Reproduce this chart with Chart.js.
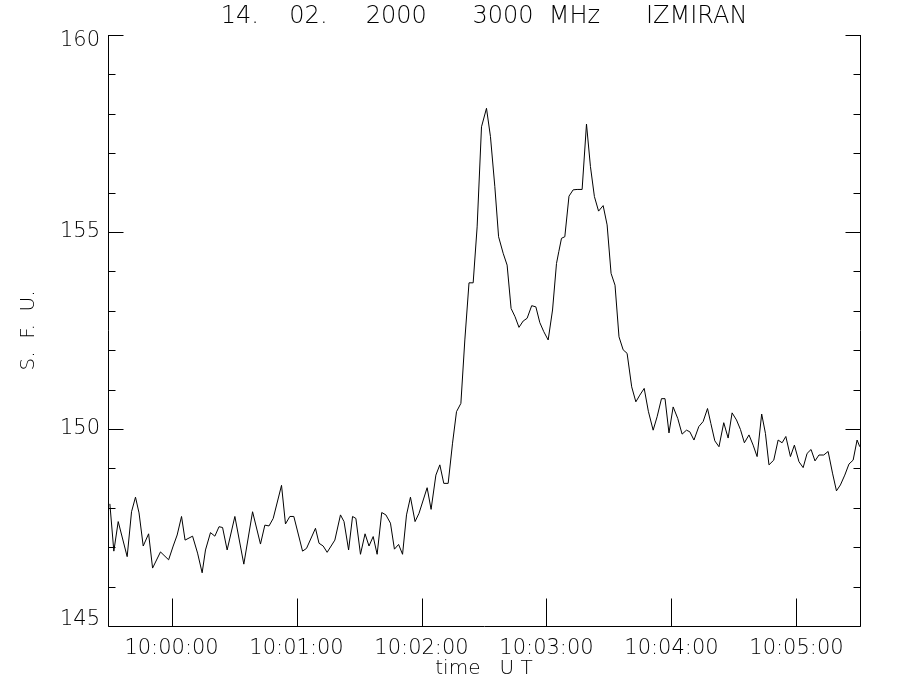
<!DOCTYPE html>
<html>
<head>
<meta charset="utf-8">
<script src="https://cdn.jsdelivr.net/npm/chart.js@4/dist/chart.umd.min.js"></script>
<style>
  body { margin: 0; background: #fff; }
  #wrap { width: 900px; height: 700px; }
</style>
</head>
<body>
<div id="wrap"><canvas id="chart" width="900" height="700"></canvas></div>
<script>
// time in seconds after 10:00:00 UT, flux in S.F.U.
const times = [
  -29.6, -27.7, -25.6, -21.3, -19.2, -17.3, -15.6, -13.6, -11.0, -9.1,
  -5.3, -1.4, 0.8, 2.7, 4.8, 6.5, 10.1, 12.5, 14.7, 16.3,
  18.7, 20.8, 22.8, 24.5, 26.7, 30.4, 34.7, 38.9, 42.7, 44.8,
  46.8, 48.8, 52.8, 54.7, 56.8, 58.7, 62.9, 64.8, 69.1, 70.8,
  72.8, 74.7, 78.4, 81.1, 82.8, 85.0, 86.9, 88.5, 90.7, 92.9,
  94.8, 96.8, 98.7, 100.9, 102.9, 105.1, 107.0, 109.0, 110.9, 112.8,
  114.7, 116.9, 118.8, 122.7, 124.6, 126.9, 128.8, 130.7, 132.8, 134.9,
  136.8, 138.9, 140.8, 142.8, 144.8, 146.7, 148.8, 151.2, 153.1, 155.2,
  157.0, 159.2, 161.1, 163.0, 164.9, 166.8, 168.8, 170.7, 172.9, 174.9,
  176.8, 178.7, 180.8, 182.9, 184.8, 185.9, 187.2, 188.8, 190.8, 192.8,
  194.7, 197.1, 199.2, 201.1, 203.0, 205.0, 207.2, 209.1, 211.0, 212.9,
  214.8, 216.8, 218.7, 220.9, 222.9, 224.8, 226.9, 228.9, 231.2, 233.1,
  235.2, 236.9, 238.8, 240.8, 243.0, 245.1, 247.2, 248.8, 250.8, 253.1,
  255.2, 257.3, 258.9, 260.8, 262.8, 265.1, 267.2, 269.1, 271.2, 273.1,
  275.0, 277.2, 279.2, 281.1, 283.3, 285.1, 286.8, 289.1, 291.2, 293.1,
  294.9, 297.1, 299.0, 301.2, 303.2, 305.1, 307.0, 308.9, 310.8, 313.1,
  315.2, 317.3, 319.2, 321.1, 323.2, 325.2, 327.2, 329.1, 330.4
];
const flux = [
  148.10, 146.90, 147.65, 146.76, 147.90, 148.27, 147.87, 147.03, 147.34, 146.47,
  146.88, 146.68, 147.03, 147.31, 147.78, 147.18, 147.28, 146.85, 146.35, 146.93,
  147.37, 147.28, 147.52, 147.50, 146.93, 147.78, 146.57, 147.90, 147.08, 147.56,
  147.54, 147.73, 148.57, 147.59, 147.78, 147.78, 146.90, 146.97, 147.48, 147.10,
  147.03, 146.87, 147.18, 147.82, 147.65, 146.93, 147.78, 147.73, 146.82, 147.34,
  147.03, 147.27, 146.82, 147.88, 147.82, 147.61, 146.95, 147.07, 146.82, 147.82,
  148.27, 147.65, 147.86, 148.51, 147.96, 148.83, 149.09, 148.62, 148.62, 149.64,
  150.44, 150.65, 152.26, 153.71, 153.71, 155.13, 157.67, 158.14, 157.42, 156.15,
  154.88, 154.46, 154.16, 153.06, 152.85, 152.58, 152.74, 152.81, 153.13, 153.10,
  152.70, 152.47, 152.26, 153.02, 154.20, 154.50, 154.84, 154.88, 155.91, 156.07,
  156.08, 156.08, 157.74, 156.66, 155.90, 155.53, 155.67, 155.18, 153.95, 153.65,
  152.34, 152.01, 151.92, 151.07, 150.69, 150.86, 151.03, 150.45, 149.97, 150.31,
  150.77, 150.77, 149.90, 150.56, 150.27, 149.87, 149.97, 149.93, 149.72, 150.06,
  150.19, 150.52, 150.14, 149.70, 149.55, 150.16, 149.77, 150.41, 150.23, 149.99,
  149.65, 149.85, 149.59, 149.30, 150.38, 149.89, 149.09, 149.21, 149.72, 149.65,
  149.81, 149.30, 149.59, 149.17, 149.02, 149.38, 149.48, 149.19, 149.34, 149.34,
  149.43, 148.88, 148.43, 148.58, 148.83, 149.11, 149.21, 149.72, 149.55
];
const xTicks = [0, 60, 120, 180, 240, 300];
const yTicks = [145, 150, 155, 160];

const FONT = "'DejaVu Sans', sans-serif";

function clock(sec) {
  let t = 10 * 3600 + sec;
  let h = Math.floor(t / 3600), m = Math.floor((t % 3600) / 60), s = Math.round(t % 60);
  return [h, m, s].map(n => String(n).padStart(2, "0")).join(":");
}

// IDL style box: left, bottom and right axes, ticks pointing inward
const frame = {
  id: "frame",
  beforeDraw(chart) {
    // end labels sit inside the axis range, like the original plot
    const y = chart.scales.y;
    const items = y.getLabelItems();
    if (!items._nudged && items.length) {
      items.forEach(it => {
        if (it.label === String(y.max)) it.options.translation[1] += 6;
        if (it.label === String(y.min)) it.options.translation[1] -= 6;
      });
      items._nudged = true;
    }
  },
  afterDatasetsDraw(chart) {
    const { ctx, chartArea: a, scales: { x, y } } = chart;
    ctx.save();
    ctx.strokeStyle = "#000";
    ctx.lineWidth = 1;
    ctx.beginPath();
    const L = Math.round(a.left) + 0.5, R = Math.round(a.right) + 0.5, B = Math.round(a.bottom) + 0.5;
    ctx.moveTo(L, a.top);
    ctx.lineTo(L, B);
    ctx.lineTo(R, B);
    ctx.lineTo(R, a.top);
    for (let v = y.min; v <= y.max; v++) {
      const py = Math.round(y.getPixelForValue(v)) + 0.5;
      const len = yTicks.includes(v) ? 15 : 7;
      ctx.moveTo(L, py); ctx.lineTo(L + len, py);
      ctx.moveTo(R, py); ctx.lineTo(R - len, py);
    }
    xTicks.forEach(v => {
      const px = Math.round(x.getPixelForValue(v)) + 0.5;
      ctx.moveTo(px, B); ctx.lineTo(px, B - 28);
    });
    ctx.stroke();
    ctx.restore();
  }
};

new Chart(document.getElementById("chart"), {
  type: "line",
  data: {
    datasets: [{
      data: times.map((t, i) => ({ x: t, y: flux[i] })),
      borderColor: "#000",
      borderWidth: 1,
      pointRadius: 0,
      tension: 0,
      fill: false
    }]
  },
  options: {
    responsive: false,
    animation: false,
    layout: { padding: { left: 0, right: 40, top: 0, bottom: 0 } },
    plugins: {
      legend: { display: false },
      tooltip: { enabled: false },
      title: {
        display: true,
        fullSize: false,
        text: "14.    02.     2000      3000  MHz      IZMIRAN",
        color: "#000",
        font: { family: FONT, size: 24, weight: 200, lineHeight: 1.2 },
        padding: { top: 2.5, bottom: 3.7 }
      }
    },
    scales: {
      x: {
        type: "linear",
        min: -30.5,
        max: 330.5,
        grid: { display: false, drawTicks: false },
        border: { display: false },
        afterBuildTicks: s => { s.ticks = xTicks.map(v => ({ value: v })); },
        afterFit: s => { s.height = 74; },
        ticks: {
          color: "#000",
          padding: 10,
          maxRotation: 0,
          font: { family: FONT, size: 21, weight: 200 },
          callback: v => clock(v)
        },
        title: {
          display: true,
          text: "time   U T",
          color: "#000",
          font: { family: FONT, size: 20, weight: 200, lineHeight: 1.2 },
          padding: { top: 19, bottom: 19 }
        }
      },
      y: {
        min: 145,
        max: 160,
        grid: { display: false, drawTicks: false },
        border: { display: false },
        afterBuildTicks: s => { s.ticks = yTicks.map(v => ({ value: v })); },
        afterFit: s => { s.width = 108; },
        ticks: {
          color: "#000",
          padding: 8,
          font: { family: FONT, size: 21, weight: 200 }
        },
        title: {
          display: true,
          text: "S.  F.  U.",
          color: "#000",
          font: { family: FONT, size: 20, weight: 200, lineHeight: 1.2 },
          padding: { top: 17, bottom: 17 }
        }
      }
    }
  },
  plugins: [frame]
});
</script>
</body>
</html>
